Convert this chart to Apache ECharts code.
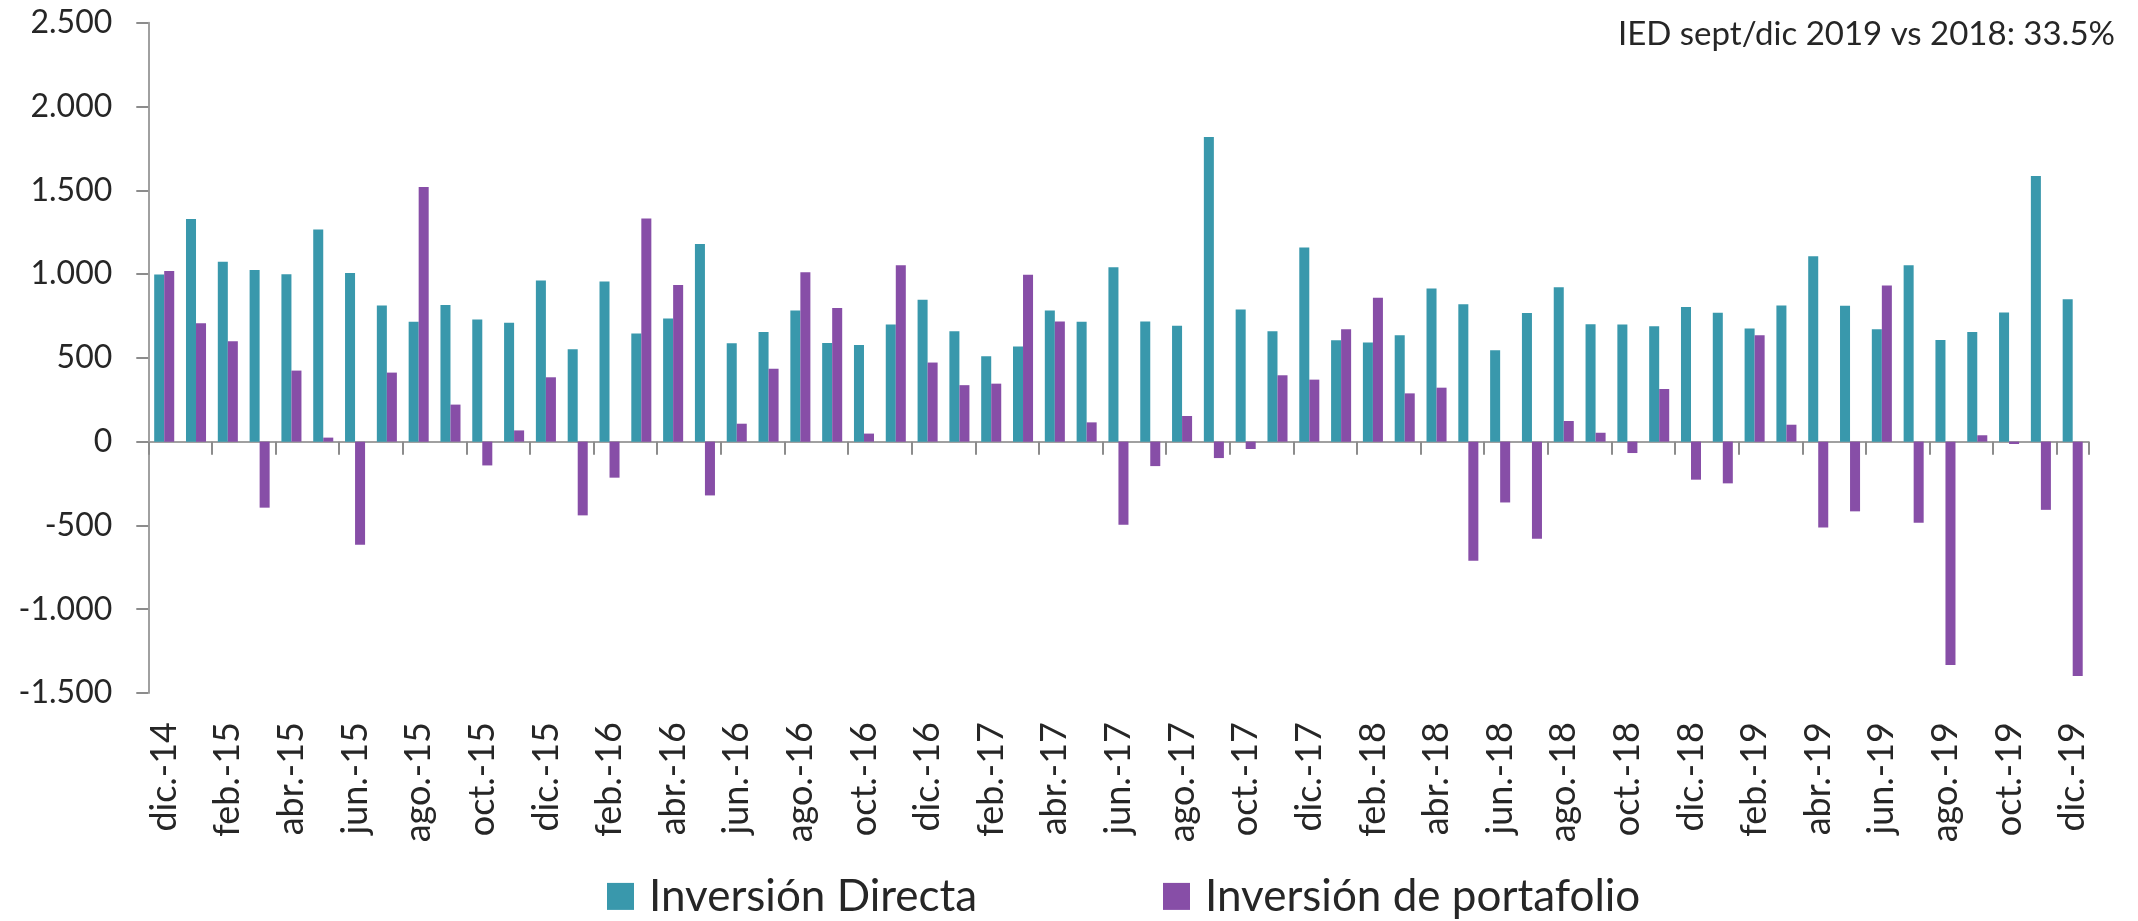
<!DOCTYPE html>
<html>
<head>
<meta charset="utf-8">
<script src="https://cdn.jsdelivr.net/npm/echarts@6/dist/echarts.min.js"></script>
<style>
  html, body { margin: 0; padding: 0; background: #ffffff; }
  #chart { width: 2138px; height: 921px; }
</style>
</head>
<body>
<div id="chart"></div>
<script>
// Monthly flows, Dec 2014 – Dec 2019 (millions)
const months = [
  'dic.-14',
  'ene.-15','feb.-15','mar.-15','abr.-15','may.-15','jun.-15','jul.-15','ago.-15','sep.-15','oct.-15','nov.-15','dic.-15',
  'ene.-16','feb.-16','mar.-16','abr.-16','may.-16','jun.-16','jul.-16','ago.-16','sep.-16','oct.-16','nov.-16','dic.-16',
  'ene.-17','feb.-17','mar.-17','abr.-17','may.-17','jun.-17','jul.-17','ago.-17','sep.-17','oct.-17','nov.-17','dic.-17',
  'ene.-18','feb.-18','mar.-18','abr.-18','may.-18','jun.-18','jul.-18','ago.-18','sep.-18','oct.-18','nov.-18','dic.-18',
  'ene.-19','feb.-19','mar.-19','abr.-19','may.-19','jun.-19','jul.-19','ago.-19','sep.-19','oct.-19','nov.-19','dic.-19'
];

const inversionDirecta = [
  998,
  1328, 1073, 1024, 999, 1266, 1007, 812, 715, 815, 729, 709, 962,
  551, 956, 645, 735, 1179, 587, 655, 783, 589, 577, 699, 847,
  659, 510, 568, 783, 715, 1040, 717, 691, 1818, 788, 659, 1159,
  605, 591, 635, 914, 820, 546, 767, 922, 701, 699, 689, 804,
  769, 675, 813, 1107, 811, 671, 1052, 607, 655, 771, 1585, 849
];

const inversionPortafolio = [
  1018,
  706, 599, -394, 424, 24, -615, 412, 1519, 221, -142, 67, 384,
  -440, -215, 1332, 934, -321, 107, 435, 1011, 798, 48, 1052, 472,
  337, 346, 996, 717, 115, -496, -146, 153, -98, -44, 396, 370,
  671, 859, 288, 322, -711, -363, -580, 123, 53, -68, 314, -227,
  -249, 635, 101, -512, -416, 932, -484, -1333, 38, -14, -407, -1398
];

const seriesNames = ['Inversión Directa', 'Inversión de portafolio'];
const noteText = 'IED sept/dic 2019 vs 2018: 33.5%';

// value axis ticks
const yMin = -1500;
const yMax = 2500;
const yStep = 500;

const COLOR_TEAL = '#3998ac';
const COLOR_PURPLE = '#874ea7';
const TEXT = '#262626';
const AXIS = '#a0a0a0';
const FONT = 'Lato, "Noto Sans", sans-serif';

function thousands(v) {
  const s = Math.abs(v).toString().replace(/\B(?=(\d{3})+(?!\d))/g, '.');
  return (v < 0 ? '-' : '') + s;
}

const gridBox = { left: 148.3, right: 49.4, top: 22.7, bottom: 228 };

const legendStyle = {
  top: 874.4,
  padding: 0,
  icon: 'rect',
  itemWidth: 27,
  itemHeight: 27,
  selectedMode: false,
  textStyle: { fontSize: 44, fontFamily: FONT, color: TEXT, padding: [0, 0, 0, 10] }
};

const chart = echarts.init(document.getElementById('chart'), null, { renderer: 'canvas' });

chart.setOption({
  animation: false,
  backgroundColor: '#ffffff',
  textStyle: { fontFamily: FONT },
  grid: [
    Object.assign({ containLabel: false }, gridBox),
    Object.assign({ containLabel: false }, gridBox)
  ],
  xAxis: [
    {
      // axis line at zero with tick marks every two months
      gridIndex: 0,
      type: 'category',
      data: months,
      boundaryGap: true,
      axisLine: { show: true, onZero: true, lineStyle: { color: AXIS, width: 2 } },
      axisTick: { show: true, interval: 1, length: 13, lineStyle: { color: '#8c8c8c', width: 2 } },
      axisLabel: { show: false },
      splitLine: { show: false }
    },
    {
      // month labels along the bottom of the plot
      gridIndex: 1,
      type: 'category',
      data: months,
      position: 'bottom',
      boundaryGap: true,
      axisLine: { show: false, onZero: false },
      axisTick: { show: false },
      axisLabel: {
        interval: 1,
        rotate: 90,
        margin: 29,
        fontSize: 36,
        fontFamily: FONT,
        color: TEXT
      },
      splitLine: { show: false }
    }
  ],
  yAxis: [
    {
      gridIndex: 0,
      type: 'value',
      min: yMin,
      max: yMax,
      interval: yStep,
      axisLine: { show: true, lineStyle: { color: AXIS, width: 2 } },
      axisTick: { show: true, length: 12, lineStyle: { color: '#8c8c8c', width: 2 } },
      axisLabel: {
        margin: 36,
        fontSize: 32,
        fontFamily: FONT,
        color: TEXT,
        formatter: thousands
      },
      splitLine: { show: false }
    },
    {
      gridIndex: 1,
      type: 'value',
      min: yMin,
      max: yMax,
      interval: yStep,
      show: false
    }
  ],
  legend: [
    Object.assign({ data: [seriesNames[0]], left: 607 }, legendStyle),
    Object.assign({ data: [seriesNames[1]], left: 1163 }, legendStyle)
  ],
  graphic: [
    {
      type: 'text',
      right: 23,
      top: 18,
      style: {
        text: noteText,
        fontSize: 33,
        fontFamily: FONT,
        fill: TEXT
      }
    }
  ],
  series: [
    {
      name: seriesNames[0],
      type: 'bar',
      xAxisIndex: 0,
      yAxisIndex: 0,
      data: inversionDirecta,
      barGap: '0%',
      barCategoryGap: '37%',
      itemStyle: { color: COLOR_TEAL }
    },
    {
      name: seriesNames[1],
      type: 'bar',
      xAxisIndex: 0,
      yAxisIndex: 0,
      data: inversionPortafolio,
      barGap: '0%',
      barCategoryGap: '37%',
      itemStyle: { color: COLOR_PURPLE }
    }
  ]
});
</script>
</body>
</html>
